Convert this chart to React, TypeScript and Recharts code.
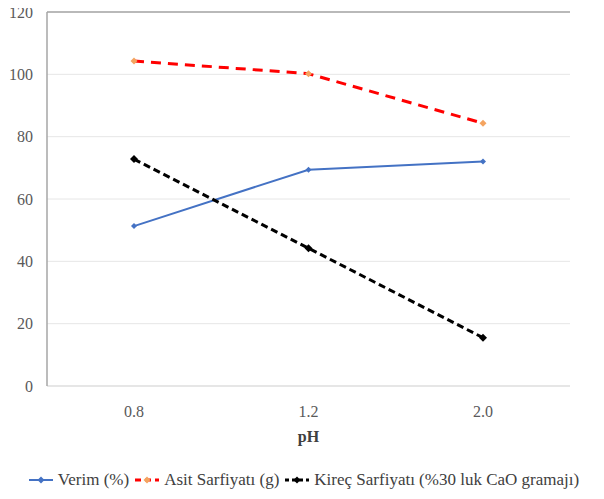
import {
  LineChart,
  Line,
  XAxis,
  YAxis,
  CartesianGrid,
  Legend,
  ReferenceLine,
} from "recharts";

const phLevels = ["0.8", "1.2", "2.0"];
const verim = [51.3, 69.4, 72.0];
const asitSarfiyati = [104.3, 100.2, 84.3];
const kirecSarfiyati = [72.8, 44.2, 15.5];
const yTicks = [0, 20, 40, 60, 80, 100, 120];

const data = phLevels.map((ph, i) => ({
  ph,
  verim: verim[i],
  asit: asitSarfiyati[i],
  kirec: kirecSarfiyati[i],
}));

const FONT = "Liberation Serif, Times New Roman, Tinos, DejaVu Serif, serif";

/* ===== diamond marker ===== */
const Diamond = ({ cx, cy, fill, r = 3.5 }: any) => {
  if (cx == null || cy == null) return null;
  return (
    <path
      d={`M${cx},${cy - r} L${cx + r},${cy} L${cx},${cy + r} L${cx - r},${cy} Z`}
      fill={fill}
      stroke="none"
    />
  );
};

const legendItems = [
  { label: "Verim (%)", color: "#4472C4", dash: undefined, marker: "#4472C4", width: 2 },
  { label: "Asit Sarfiyatı (g)", color: "#FF0000", dash: "6 4", marker: "#F4A460", width: 3 },
  { label: "Kireç Sarfiyatı (%30 luk CaO gramajı)", color: "#000000", dash: "4 3", marker: "#000000", width: 3 },
];

/* ===== Excel style legend ===== */
const renderLegend = () => (
  <div
    style={{
      display: "flex",
      justifyContent: "center",
      alignItems: "center",
      fontFamily: FONT,
      fontSize: 17,
      color: "#404040",
      whiteSpace: "nowrap",
      lineHeight: "20px",
    }}
  >
    {legendItems.map((it) => (
      <span key={it.label} style={{ display: "flex", alignItems: "center", marginRight: 5 }}>
        <svg width={26} height={10} style={{ marginRight: 4 }}>
          <line
            x1={1}
            y1={5}
            x2={25}
            y2={5}
            stroke={it.color}
            strokeWidth={it.width}
            strokeDasharray={it.dash}
          />
          <Diamond cx={13} cy={5} fill={it.marker} r={3.5} />
        </svg>
        {it.label}
      </span>
    ))}
  </div>
);

export default function App() {
  return (
    <div style={{ marginTop: -4, fontFamily: FONT }}>
      <LineChart
        width={596}
        height={495}
        data={data}
        margin={{ top: 8, right: 34, left: 0, bottom: 33 }}
      >
        <CartesianGrid vertical={false} stroke="#e6e6e6" />
        <XAxis
          dataKey="ph"
          padding={{ left: 87, right: 87 }}
          tickLine={false}
          axisLine={{ stroke: "#d9d9d9" }}
          tick={{ fill: "#595959", fontSize: 16, fontFamily: FONT }}
          tickMargin={14}
          height={60}
          label={{
            value: "pH",
            position: "insideBottom",
            offset: 4,
            style: { fill: "#404040", fontSize: 16, fontWeight: 700, fontFamily: FONT },
          }}
        />
        <YAxis
          domain={[0, 120]}
          ticks={yTicks}
          width={39}
          tickLine={false}
          axisLine={{ stroke: "#a6a6a6", strokeWidth: 1.5 }}
          tick={{ fill: "#595959", fontSize: 16, fontFamily: FONT }}
          tickMargin={8}
          interval={0}
        />
        <YAxis
          yAxisId="frame"
          orientation="right"
          width={0}
          domain={[0, 120]}
          tick={false}
          tickLine={false}
          axisLine={{ stroke: "#a6a6a6", strokeWidth: 1.5 }}
        />
        <ReferenceLine y={120} stroke="#a6a6a6" strokeWidth={1.5} />
        <Legend
          verticalAlign="bottom"
          content={renderLegend}
          wrapperStyle={{ top: 466, bottom: "auto", left: 0, width: 596 }}
        />
        <Line
          dataKey="verim"
          stroke="#4472C4"
          strokeWidth={2}
          dot={(p: any) => <Diamond key={p.index} {...p} fill="#4472C4" r={3} />}
          activeDot={false}
          isAnimationActive={false}
        />
        <Line
          dataKey="asit"
          stroke="#FF0000"
          strokeWidth={3}
          strokeDasharray="10 7"
          dot={(p: any) => <Diamond key={p.index} {...p} fill="#F4A460" r={3.5} />}
          activeDot={false}
          isAnimationActive={false}
        />
        <Line
          dataKey="kirec"
          stroke="#000000"
          strokeWidth={3}
          strokeDasharray="7 4"
          dot={(p: any) => <Diamond key={p.index} {...p} fill="#000000" r={4} />}
          activeDot={false}
          isAnimationActive={false}
        />
      </LineChart>
    </div>
  );
}
